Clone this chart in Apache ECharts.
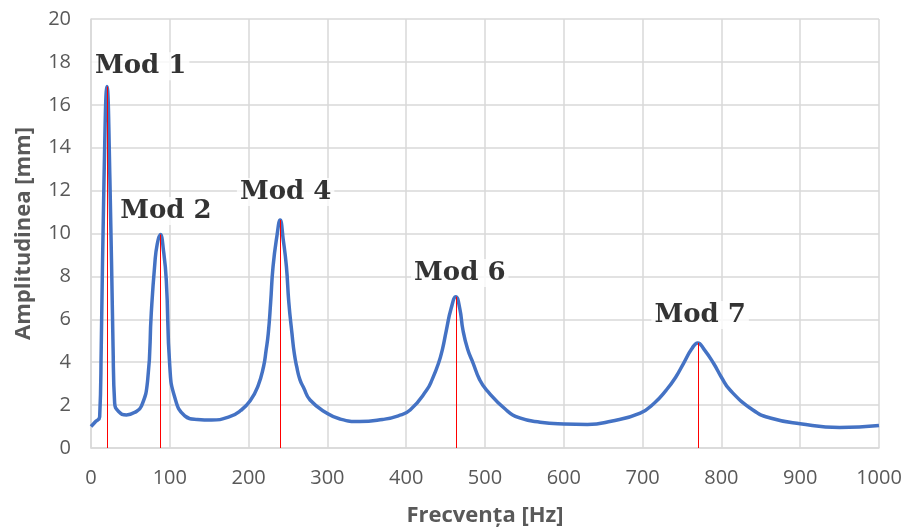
<!DOCTYPE html>
<html>
<head>
<meta charset="utf-8">
<script src="https://cdn.jsdelivr.net/npm/echarts@6/dist/echarts.min.js"></script>
<style>
    html, body { margin: 0; padding: 0; background: #fff; }
    #chart { width: 908px; height: 532px; }
</style>
</head>
<body>
<div id="chart"></div>
<script>
    // frecventa [Hz] si amplitudinea [mm]
    var freq = [0, 5, 11, 13, 16.5, 20.3, 24, 28, 30, 35, 45, 55, 64, 72, 76.5, 81, 84, 88, 92, 95.6, 100, 106, 119,
        135, 153, 176, 190, 202, 212, 219, 222, 225, 228, 231, 236, 240, 244, 248, 251, 255, 258, 261, 265, 270, 278,
        299, 316, 341, 370, 390, 405, 426, 433, 441, 446, 451, 457, 463, 468, 472, 478, 485, 493, 502, 527, 544,
        570, 600, 630, 660, 697, 715, 730, 742, 752, 762, 770, 778, 790, 800, 811, 840, 862, 900, 950, 1000];
    var ampl = [1.0, 1.2, 1.45, 4.7, 12.5, 16.85, 12.5, 4.7, 2.1, 1.7, 1.54, 1.65, 1.95, 3.2, 6.3, 8.6, 9.5, 9.95, 9.2, 7.8, 3.8, 2.4, 1.5,
        1.33, 1.3, 1.46, 1.75, 2.2, 2.9, 3.8, 4.5, 5.35, 6.8, 8.45, 9.9, 10.63, 9.7, 8.45, 6.8, 5.35, 4.4, 3.8, 3.2, 2.8, 2.24,
        1.63, 1.35, 1.23, 1.33, 1.5, 1.77, 2.7, 3.2, 3.95, 4.6, 5.5, 6.5, 7.05, 6.5, 5.5, 4.6, 3.95, 3.2, 2.7, 1.77, 1.4,
        1.2, 1.12, 1.1, 1.25, 1.63, 2.1, 2.7, 3.3, 3.95, 4.6, 4.9, 4.6, 3.95, 3.3, 2.7, 1.77, 1.4, 1.13, 0.95, 1.05];

    // moduri proprii: frecventa si varful
    var modeNames = ['Mod 1', 'Mod 2', 'Mod 4', 'Mod 6', 'Mod 7'];
    var modeFreq = [20.3, 88, 240, 463, 770];
    var modePeak = [16.85, 9.95, 10.63, 7.05, 4.9];
    // unde stau etichetele (in unitatile axelor)
    var labelFreq = [63, 95, 247, 468, 773];
    var labelAmpl = [17.8, 11.05, 11.93, 8.16, 6.2];

    var chart = echarts.init(document.getElementById('chart'));

    var curve = freq.map(function (f, i) { return [f, ampl[i]]; });
    var redLines = modeFreq.map(function (f, i) {
        return [{ coord: [f, 0] }, { coord: [f, modePeak[i]] }];
    });
    var labels = modeNames.map(function (n, i) {
        return { name: n, value: [labelFreq[i], labelAmpl[i]] };
    });

    var gridColor = '#d9d9d9';
    var textColor = '#595959';

    chart.setOption({
        animation: false,
        grid: { left: 91, right: 29, top: 19, bottom: 84 },
        xAxis: {
            type: 'value',
            min: 0,
            max: 1000,
            interval: 100,
            name: 'Frecvența [Hz]',
            nameLocation: 'middle',
            nameGap: 57,
            nameTextStyle: { color: textColor, fontSize: 22, fontWeight: 'bold', fontFamily: 'Open Sans' },
            axisLine: { show: true, lineStyle: { color: gridColor, width: 1.5 } },
            axisTick: { show: false },
            axisLabel: {
                color: textColor, fontSize: 20, fontFamily: 'Open Sans', margin: 20,
                formatter: function (v) { return String(v); }
            },
            splitLine: { show: true, lineStyle: { color: gridColor, width: 1.5 } }
        },
        yAxis: {
            type: 'value',
            min: 0,
            max: 20,
            interval: 2,
            name: 'Amplitudinea [mm]',
            nameLocation: 'middle',
            nameGap: 56,
            nameTextStyle: { color: textColor, fontSize: 22, fontWeight: 'bold', fontFamily: 'Open Sans' },
            axisLine: { show: true, lineStyle: { color: gridColor, width: 1.5 } },
            axisTick: { show: false },
            axisLabel: { color: textColor, fontSize: 20, fontFamily: 'Open Sans', margin: 20 },
            splitLine: { show: true, lineStyle: { color: gridColor, width: 1.5 } }
        },
        series: [
            {
                type: 'line',
                data: curve,
                smooth: 0.5,
                showSymbol: false,
                lineStyle: { color: '#4472c4', width: 3.5 },
                markLine: {
                    silent: true,
                    symbol: 'none',
                    label: { show: false },
                    lineStyle: { color: '#ff0000', width: 1, type: 'solid' },
                    data: redLines
                }
            },
            {
                type: 'scatter',
                data: labels,
                symbolSize: 0,
                silent: true,
                z: 5,
                label: {
                    show: true,
                    position: 'inside',
                    formatter: '{b}',
                    color: '#000',
                    fontSize: 26,
                    fontWeight: 'bold',
                    fontFamily: 'DejaVu Serif',
                    backgroundColor: '#fff',
                    padding: [1, 3]
                }
            }
        ]
    });
</script>
</body>
</html>
